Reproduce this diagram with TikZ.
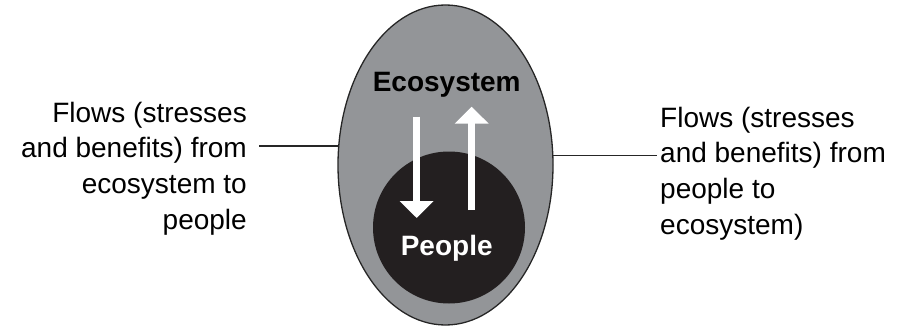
\documentclass[tikz,border=0pt]{standalone}
\usepackage{fontspec}
\setmainfont{Liberation Sans}
\usetikzlibrary{shapes.geometric,arrows.meta}
\definecolor{ecogray}{RGB}{147,149,152}
\definecolor{peopleblack}{RGB}{35,31,32}
\tikzstyle{ecoblock} = [draw=black!85, line width=1.3pt, fill=ecogray, ellipse, minimum width=215pt, minimum height=320pt, inner sep=0pt]
\tikzstyle{peopleblock} = [fill=peopleblack, circle, minimum size=152pt, inner sep=0pt]
\tikzstyle{note} = [font=\fontsize{28}{35.7}\selectfont, inner sep=0pt]
\tikzstyle{flow} = [draw=white, line width=6.5pt, -{Triangle[width=33pt,length=17pt]}]
\tikzstyle{line} = [draw, line width=1.2pt, black!85]

\begin{document}
\begin{tikzpicture}[x=1pt, y=-1pt]
    \useasboundingbox (0,0) rectangle (900,329);
    % Place nodes
    \node [ecoblock] (eco) at (445.5,165) {};
    \node [peopleblock] (people) at (449,227.5) {};
    \node [note, font=\fontsize{28}{35.7}\selectfont\bfseries] (ecolabel) at (446.7,85) {Ecosystem};
    \node [note, font=\fontsize{28}{35.7}\selectfont\bfseries, text=white] (peoplelabel) at (446.7,248) {People};
    \node [note, align=right, anchor=east] (lefttxt) at (247,168.5) {Flows (stresses\\and benefits) from\\ecosystem to\\people};
    \node [note, align=left, anchor=west] (righttxt) at (660,173.5) {Flows (stresses\\and benefits) from\\people to\\ecosystem)};
    \coordinate (downtop) at (416.7,116.7);
    \coordinate (downtip) at (416.7,218);
    \coordinate (upbot) at (471.7,210);
    \coordinate (uptip) at (471.7,106.7);
    % Draw edges
    \path [flow] (downtop) -- (downtip);
    \path [flow] (upbot) -- (uptip);
    \path [line] (eco.170.4) -- ([xshift=12pt]lefttxt.east |- eco.170.4);
    \path [line] (eco.5.3) -- ([xshift=-3pt]righttxt.west |- eco.5.3);
\end{tikzpicture}
\end{document}
